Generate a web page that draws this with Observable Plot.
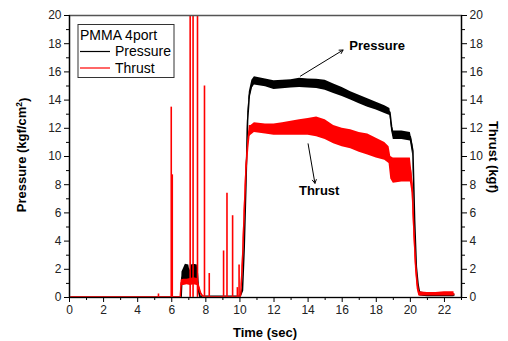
<!DOCTYPE html>
<html><head><meta charset="utf-8">
<script src="https://cdn.jsdelivr.net/npm/d3@7"></script>
<script src="https://cdn.jsdelivr.net/npm/@observablehq/plot@0.6"></script>
<style>
body{margin:0;background:#fff;font-family:"Liberation Sans",Arial,sans-serif;}
#wrap{position:relative;width:508px;height:341px;}
</style></head><body><div id="wrap"></div>
<script>
// Pressure (kgf/cm²) noisy band: time, lower edge, upper edge
const pressTime = [0,6.55,6.6,6.8,7.0,7.06,7.15,7.3,7.5,7.55,7.65,10.0,10.15,10.25,10.35,10.45,10.55,10.7,10.85,11.5,12.0,12.5,13.0,13.5,14.0,14.5,15.0,15.5,16.0,16.5,17.0,17.5,18.0,18.5,18.8,18.9,19.0,19.5,20.0,20.15,20.25,20.35,20.45,20.55,21.0,22.56];
const pressLow  = [0,0,1.0,1.2,1.2,1.1,1.2,1.2,1.2,0.5,0,0,0.3,3.2,7.6,12.2,14.0,14.8,15.07,14.95,14.76,14.8,14.85,14.9,14.85,14.83,14.7,14.47,14.25,14.0,13.75,13.5,13.3,13.05,12.9,11.8,11.2,11.2,11.1,10.0,5.0,1.9,0.7,0.1,0.05,0.05];
const pressHigh = [0.05,0.05,1.8,2.35,2.3,1.9,2.3,2.35,2.3,1.2,0.1,0.1,0.7,3.8,8.2,12.9,14.6,15.4,15.66,15.5,15.37,15.4,15.45,15.55,15.5,15.47,15.4,15.14,14.9,14.6,14.35,14.1,13.85,13.6,13.4,12.4,11.8,11.8,11.7,10.8,6.0,2.5,1.2,0.4,0.3,0.3];

// Thrust (kgf) noisy band
const thrustTime = [0,5.2,6.5,6.55,6.7,6.9,7.1,7.3,7.5,7.6,7.7,7.86,10.0,10.05,10.15,10.25,10.35,10.45,10.55,10.65,10.85,11.5,12.0,12.5,13.0,13.5,14.0,14.5,15.0,15.5,16.0,16.5,17.0,17.5,18.0,18.5,18.75,18.85,19.0,19.5,20.0,20.1,20.2,20.3,20.4,20.5,21.0,21.5,22.0,22.56];
const thrustLow  = [0,0,0,0.85,0.85,0.9,0.85,0.9,0.85,0.5,0.2,0,0,0.1,2.2,5.6,8.6,10.2,11.4,11.5,11.7,11.6,11.5,11.5,11.5,11.5,11.5,11.4,11.2,10.9,10.7,10.55,10.3,10.1,9.9,9.73,9.5,8.4,8.1,8.2,8.2,7.4,4.5,2.0,0.6,0.1,0.1,0.1,0.1,0.1];
const thrustHigh = [0.05,0.05,0.05,1.25,1.3,1.3,1.35,1.4,1.35,0.9,0.4,0.05,0.05,0.4,3.0,6.4,9.4,11.0,12.2,12.2,12.4,12.3,12.3,12.4,12.5,12.6,12.7,12.8,12.6,12.2,12.0,11.9,11.7,11.6,11.3,11.0,10.7,10.0,9.9,9.9,9.9,8.8,5.5,3.0,1.4,0.4,0.35,0.35,0.4,0.4];

// Thrust spikes during ignition
const spikeTime   = [5.22,5.97,6.03,7.08,7.25,7.51,7.92,8.2,9.04,9.24,9.57,9.85,9.95];
const spikeHeight = [0.25,13.5,8.7,25,25,25,15.0,1.7,3.3,7.4,5.8,0.7,2.3];

// Axis ticks
const majorTicksX = [0,2,4,6,8,10,12,14,16,18,20,22];
const minorTicksX = [1,3,5,7,9,11,13,15,17,19,21,23];
const majorTicksY = [0,2,4,6,8,10,12,14,16,18,20];
const minorTicksY = [1,3,5,7,9,11,13,15,17,19];

// Annotations (data coordinates)
const annoLabels = ["Pressure","Thrust"];
const annoTextX = [18.05,14.65];
const annoTextY = [17.85,7.6];
const arrowX1 = [13.55,14.0];
const arrowY1 = [15.7,10.9];
const arrowX2 = [16.05,14.4];
const arrowY2 = [17.55,8.1];

const press = pressTime.map((t,i)=>({t, lo:pressLow[i], hi:pressHigh[i], mid:(pressLow[i]+pressHigh[i])/2}));
const thrust = thrustTime.map((t,i)=>({t, lo:thrustLow[i], hi:thrustHigh[i], mid:(thrustLow[i]+thrustHigh[i])/2}));
const spikes = spikeTime.map((t,i)=>({t, h:spikeHeight[i]}));
const annos = annoLabels.map((s,i)=>({s, x:annoTextX[i], y:annoTextY[i], x1:arrowX1[i], y1:arrowY1[i], x2:arrowX2[i], y2:arrowY2[i]}));

const RED = "#ff0000";
const tickFont = {fontSize: 12, fill: "#222"};

const chart = Plot.plot({
  width: 508, height: 341,
  marginLeft: 69, marginRight: 47, marginTop: 15, marginBottom: 44,
  style: {fontFamily: '"Liberation Sans", Arial, sans-serif', background: "#fff", overflow: "visible"},
  x: {domain: [0, 23]},
  y: {domain: [0, 20]},
  marks: [
    Plot.areaY(press, {x: "t", y1: "lo", y2: "hi", fill: "#000"}),
    Plot.line(press, {x: "t", y: "mid", stroke: "#000", strokeWidth: 1.5}),
    Plot.areaY(thrust, {x: "t", y1: "lo", y2: "hi", fill: RED}),
    Plot.line(thrust, {x: "t", y: "mid", stroke: RED, strokeWidth: 1.5}),
    Plot.ruleX(spikes, {x: "t", y1: 0, y2: "h", stroke: RED, strokeWidth: 1.6, clip: true}),
    Plot.frame({stroke: "#555", strokeWidth: 1.5}),
    Plot.ruleX([0], {stroke: "#000", strokeWidth: 1.2}),
    Plot.ruleX([23], {stroke: "#000", strokeWidth: 1.2}),
    Plot.ruleY([0], {stroke: "#000", strokeWidth: 1.2}),
    Plot.axisX({ticks: majorTicksX, tickSize: 5, tickPadding: 3, label: null, ...tickFont, stroke: "#000"}),
    Plot.axisX({ticks: minorTicksX, tickSize: 3, tickFormat: () => "", label: null, stroke: "#000"}),
    Plot.axisY({ticks: majorTicksY, tickSize: 5, tickPadding: 3, label: null, ...tickFont, stroke: "#000"}),
    Plot.axisY({ticks: minorTicksY, tickSize: 3, tickFormat: () => "", label: null, stroke: "#000"}),
    Plot.axisY({anchor: "right", ticks: majorTicksY, tickSize: 5, tickPadding: 3, label: null, ...tickFont, stroke: "#000"}),
    Plot.axisY({anchor: "right", ticks: minorTicksY, tickSize: 3, tickFormat: () => "", label: null, stroke: "#000"}),
    Plot.text(annos, {x: "x", y: "y", text: "s", fontSize: 13, fontWeight: "bold", fill: "#000"}),
    Plot.arrow(annos, {x1: "x1", y1: "y1", x2: "x2", y2: "y2", stroke: "#000", strokeWidth: 1, headLength: 6, bend: 0})
  ]
});

const svg = d3.select(chart);
const bold = {"font-size": "13px", "font-weight": "bold", "fill": "#000", "text-anchor": "middle"};
function addText(x, y, txt, attrs, rot) {
  const t = svg.append("text").attr("x", 0).attr("y", 0).attr("dy", "0.35em")
    .attr("transform", `translate(${x},${y}) rotate(${rot||0})`).text(txt);
  for (const k in attrs) t.attr(k, attrs[k]);
  return t;
}
addText(265, 332, "Time (sec)", bold, 0);
// Left title with superscript
const lt = svg.append("text").attr("transform", "translate(21,155) rotate(-90)").attr("dy","0.35em");
for (const k in bold) lt.attr(k, bold[k]);
lt.append("tspan").text("Pressure (kgf/cm");
lt.append("tspan").attr("font-size","8.5px").attr("dy","-0.45em").text("2");
lt.append("tspan").attr("dy","0.45em").text(")");
addText(494, 157, "Thrust (kgf)", bold, 90);

// Legend
const lg = svg.append("g").attr("font-size", "14px").attr("fill", "#000").attr("text-anchor", "start");
lg.append("rect").attr("x", 78).attr("y", 24.5).attr("width", 96).attr("height", 53)
  .attr("fill", "#fff").attr("stroke", "#333").attr("stroke-width", 1);
lg.append("text").attr("x", 80).attr("y", 35).attr("dy", "0.35em").attr("text-anchor", "start").text("PMMA 4port");
lg.append("line").attr("x1", 80).attr("x2", 110).attr("y1", 51.5).attr("y2", 51.5).attr("stroke", "#000").attr("stroke-width", 1.2);
lg.append("text").attr("x", 115).attr("y", 51.5).attr("dy", "0.35em").attr("text-anchor", "start").text("Pressure");
lg.append("line").attr("x1", 80).attr("x2", 110).attr("y1", 68).attr("y2", 68).attr("stroke", RED).attr("stroke-width", 1.2);
lg.append("text").attr("x", 115).attr("y", 68).attr("dy", "0.35em").attr("text-anchor", "start").text("Thrust");

document.getElementById("wrap").appendChild(chart);
</script></body></html>
